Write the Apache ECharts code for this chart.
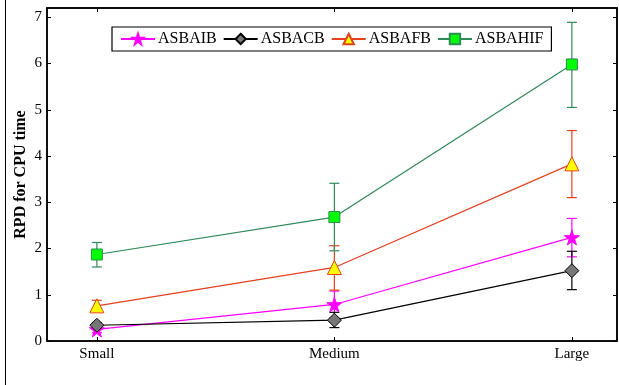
<!DOCTYPE html>
<html>
<head>
<meta charset="utf-8">
<script src="https://cdn.jsdelivr.net/npm/echarts@6/dist/echarts.min.js"></script>
<style>
  html, body { margin: 0; padding: 0; background: #fff; }
  #chart { width: 619px; height: 385px; }
</style>
</head>
<body>
<div id="chart"></div>
<script>
// Problem sizes on the x axis (placed at 1, 2, 3)
const sizes = ['Small', 'Medium', 'Large'];
const sizePos = [1, 2, 3];
const yTicks = [0, 1, 2, 3, 4, 5, 6, 7];

// Mean RPD for CPU time per algorithm
const asbaib  = [0.25, 0.79, 2.24];
const asbacb  = [0.34, 0.45, 1.52];
const asbafb  = [0.76, 1.59, 3.83];
const asbahif = [1.87, 2.68, 5.98];

// Error bar bounds [low, high]
const asbaibErr  = [[0.18, 0.32], [0.50, 1.08], [1.82, 2.65]];
const asbacbErr  = [[0.28, 0.40], [0.29, 0.62], [1.11, 1.94]];
const asbafbErr  = [[0.65, 0.88], [1.10, 2.06], [3.10, 4.55]];
const asbahifErr = [[1.60, 2.13], [1.95, 3.41], [5.05, 6.89]];

const names  = ['ASBAIB', 'ASBACB', 'ASBAFB', 'ASBAHIF'];
const means  = [asbaib, asbacb, asbafb, asbahif];
const errs   = [asbaibErr, asbacbErr, asbafbErr, asbahifErr];
const lineColors = ['#ff00ff', '#000000', '#e8401c', '#2e8b57'];
const fillColors = ['#ff00ff', '#777777', '#ffff00', '#00ff00'];
const symbols = [
  'path://M50,0 L61,35 L98,35 L68,57 L79,91 L50,70 L21,91 L32,57 L2,35 L39,35 Z',
  'diamond', 'triangle', 'rect'
];
const symbolSizes = [15, 14, 14, 11];

const serif = '"Liberation Serif", "DejaVu Serif", serif';

const chart = echarts.init(document.getElementById('chart'));

const series = [];
// Error bars first so the markers sit above them
names.forEach((name, i) => {
  series.push({
    type: 'custom',
    name: name + '-err',
    xAxisIndex: 0,
    yAxisIndex: 0,
    z: 2,
    silent: true,
    data: errs[i].map((e, k) => [sizePos[k], e[0], e[1]]),
    renderItem: function (params, api) {
      const x = api.value(0);
      const lo = api.coord([x, api.value(1)]);
      const hi = api.coord([x, api.value(2)]);
      const half = 5;
      const st = { stroke: lineColors[i], lineWidth: 1.2 };
      return {
        type: 'group',
        children: [
          { type: 'line', shape: { x1: lo[0], y1: lo[1], x2: hi[0], y2: hi[1] }, style: st },
          { type: 'line', shape: { x1: lo[0] - half, y1: lo[1], x2: lo[0] + half, y2: lo[1] }, style: st },
          { type: 'line', shape: { x1: hi[0] - half, y1: hi[1], x2: hi[0] + half, y2: hi[1] }, style: st }
        ]
      };
    }
  });
});
names.forEach((name, i) => {
  series.push({
    type: 'line',
    name: name,
    xAxisIndex: 0,
    yAxisIndex: 0,
    z: 3,
    data: means[i].map((v, k) => [sizePos[k], v]),
    symbol: symbols[i],
    symbolSize: symbolSizes[i],
    showAllSymbol: true,
    lineStyle: { color: lineColors[i], width: 1.2 },
    itemStyle: { color: fillColors[i], borderColor: lineColors[i], borderWidth: 1 },
    emphasis: { disabled: true },
    animation: false
  });
});

chart.setOption({
  animation: false,
  backgroundColor: '#ffffff',
  grid: {
    left: 47, right: 2, top: 8, bottom: 44,
    show: true, borderColor: '#000', borderWidth: 1.5, backgroundColor: 'transparent'
  },
  legend: {
    data: names,
    left: 112, top: 27,
    padding: [4, 8, 4, 8],
    itemWidth: 34, itemHeight: 13, itemGap: 6,
    borderColor: '#000', borderWidth: 1.2, borderRadius: 0,
    backgroundColor: '#fff',
    textStyle: { fontFamily: serif, fontSize: 16, color: '#000', padding: [0, 0, 0, -2] }
  },
  xAxis: [{
    type: 'value', min: 0.79, max: 3.19,
    axisLine: { show: true, onZero: false, lineStyle: { color: '#000', width: 1.5 } },
    axisTick: { show: true, inside: true, length: 4, customValues: sizePos, lineStyle: { color: '#000' } },
    axisLabel: {
      customValues: sizePos,
      formatter: v => sizes[sizePos.indexOf(Math.round(v))] || '',
      fontFamily: serif, fontSize: 15, color: '#000', margin: 6
    },
    splitLine: { show: false }
  }, {
    type: 'value', min: 0.79, max: 3.19, position: 'top',
    axisLine: { show: true, onZero: false, lineStyle: { color: '#000', width: 1.5 } },
    axisTick: { show: true, inside: true, length: 4, customValues: sizePos, lineStyle: { color: '#000' } },
    axisLabel: { show: false },
    splitLine: { show: false }
  }],
  yAxis: [{
    type: 'value', min: 0, max: 7.2,
    name: 'RPD for CPU time',
    nameLocation: 'middle', nameGap: 18, nameMoveOverlap: false,
    nameTextStyle: { fontFamily: serif, fontSize: 16, fontWeight: 'bold', color: '#000' },
    axisLine: { show: true, onZero: false, lineStyle: { color: '#000', width: 1.5 } },
    axisTick: { show: true, inside: true, length: 4, customValues: yTicks, lineStyle: { color: '#000' } },
    axisLabel: { customValues: yTicks, fontFamily: serif, fontSize: 15, color: '#000', margin: 5 },
    splitLine: { show: false }
  }, {
    type: 'value', min: 0, max: 7.2, position: 'right',
    axisLine: { show: true, onZero: false, lineStyle: { color: '#000', width: 1.5 } },
    axisTick: { show: true, inside: true, length: 4, customValues: yTicks, lineStyle: { color: '#000' } },
    axisLabel: { show: false },
    splitLine: { show: false }
  }],
  graphic: [{
    type: 'line',
    shape: { x1: 5.5, y1: 0, x2: 5.5, y2: 385 },
    style: { stroke: '#000', lineWidth: 1 }
  }],
  series: series
});
</script>
</body>
</html>
